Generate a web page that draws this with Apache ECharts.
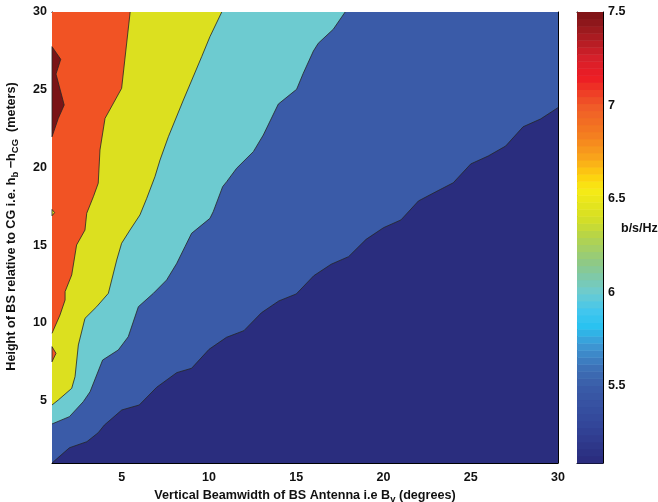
<!DOCTYPE html>
<html><head><meta charset="utf-8">
<script src="https://cdn.jsdelivr.net/npm/echarts@6/dist/echarts.min.js"></script>
<style>html,body{margin:0;padding:0;background:#fff}#c{width:658px;height:502px}</style>
</head><body><div id="c"></div>
<script>
// ---- axis extents ----
const xRange = [1, 30];
const yRange = [1, 30];
const cbRange = [5.087, 7.5];

// ---- contour boundaries, [beamwidth (deg), height (m)] ----
const navyBlueEdge = [[1,1],[2,1.98],[3,2.37],[3.65,2.95],[4,3.44],[5,4.41],[6,4.73],[7,5.87],[8.15,6.81],[9,7.09],[10,8.31],[11,9.08],[12,9.51],[13,10.66],[14,11.42],[15,11.87],[16,13.04],[17,13.78],[18,14.27],[19,15.38],[20,16.13],[21,16.63],[22,17.85],[23,18.44],[24,19.02],[25,20.23],[26,20.74],[27,21.38],[28,22.62],[29,23.12],[30,23.85]];
const blueCyanEdge = [[1,3.51],[2,3.98],[2.79,4.94],[3.18,5.58],[3.9,7.62],[4.8,8.27],[5.37,9.12],[5.95,11.05],[6.81,11.91],[7.57,12.77],[8.15,13.84],[8.62,14.91],[9,15.77],[10.05,16.73],[10.24,17.16],[10.78,18.77],[11.01,19.09],[11.58,19.95],[12.54,21.02],[13.11,22.09],[13.97,24.08],[15.02,25.03],[15.4,26.06],[15.98,27.49],[16.26,27.99],[17.12,28.89],[17.8,30]];
const cyanYellowEdge = [[1,4.73],[1.36,5.05],[2.13,5.8],[2.32,6.55],[2.51,8.59],[2.89,10.3],[3.56,11.05],[4.23,11.91],[4.71,14.05],[4.99,15.13],[5.47,15.98],[6.04,16.95],[6.43,18.02],[6.9,19.41],[7.19,20.48],[7.67,21.98],[8.53,24.34],[9.58,27.13],[10.05,28.41],[10.73,30]];
const yellowOrangeEdge = [[1,9.34],[1.46,10.52],[1.75,11.48],[1.75,12.02],[2.13,13.09],[2.41,15.02],[2.89,15.98],[2.99,17.06],[3.37,18.12],[3.65,18.99],[3.75,21.13],[4.04,23.16],[4.99,25.09],[5.48,30]];
const darkRedPatch = [[1,27.77],[1.5,26.96],[1.23,26.01],[1.7,24.02],[1.36,23.16],[1,21.98]];
const orangeNotch = [[1,8.48],[1.23,8.05],[1,7.51]];
const yellowSpot = [[1,17.3],[1.15,17.1],[1,16.9]];

// ---- level colours ----
const levelColors = {navy:'#2a2d7e', blue:'#3a5ba8', cyan:'#6dcbd0', yellow:'#dce01f', orange:'#f15324', darkred:'#7a1416'};

// ---- colormap stops for the colorbar [value, colour] ----
const cmapValues = [5.087, 5.3, 5.5, 5.6, 5.72, 5.82, 5.9, 6.0, 6.15, 6.3, 6.4, 6.55, 6.62, 6.72, 6.85, 7.0, 7.15, 7.25, 7.4, 7.5];
const cmapColors = ['#2a2b7c','#33479a','#3a5ca8','#3d72b8','#3d98d5','#29c2f0','#42c6ee','#6dcbd0','#8cc88a','#b5d44a','#d6df23','#f6eb16','#fdd20e','#f9a51b','#f47c20','#f05a28','#ed1c24','#d7202a','#9e1a1f','#7a1315'];
const cbBands = 64;

function hex2rgb(h){return [parseInt(h.slice(1,3),16),parseInt(h.slice(3,5),16),parseInt(h.slice(5,7),16)];}
function cmap(v){
  for(let i=0;i<cmapValues.length-1;i++){
    if(v<=cmapValues[i+1]){
      const t=(v-cmapValues[i])/(cmapValues[i+1]-cmapValues[i]);
      const a=hex2rgb(cmapColors[i]), b=hex2rgb(cmapColors[i+1]);
      return 'rgb('+a.map((c,k)=>Math.round(c+(b[k]-c)*t)).join(',')+')';
    }
  }
  return cmapColors[cmapColors.length-1];
}
const bandStep=(cbRange[1]-cbRange[0])/cbBands;
const cbData=[];
for(let i=0;i<cbBands;i++){cbData.push([cbRange[0]+i*bandStep, cbRange[0]+(i+1)*bandStep]);}

const FONT='Liberation Sans, Arial, sans-serif';
const TXT='#111';

function polySeries(pts, fill, stroke, z){
  return {
    type:'custom', xAxisIndex:0, yAxisIndex:0, z:z||2, silent:true,
    data:[0],
    renderItem:function(params, api){
      return {type:'polygon', shape:{points:pts.map(p=>api.coord(p))},
        style:{fill:fill, stroke:stroke||null, lineWidth:stroke?0.8:0}};
    }
  };
}
function edgeSeries(pts){
  return {type:'line', xAxisIndex:0, yAxisIndex:0, data:pts, symbol:'none', z:5, silent:true,
    lineStyle:{color:'#262626', width:0.8}};
}

const corners = [[xRange[0],yRange[0]],[xRange[1],yRange[0]],[xRange[1],yRange[1]],[xRange[0],yRange[1]]];

const series = [
  polySeries(corners, levelColors.navy),
  polySeries(navyBlueEdge.concat([[xRange[1],yRange[1]],[xRange[0],yRange[1]]]), levelColors.blue),
  polySeries(blueCyanEdge.concat([[xRange[0],yRange[1]]]), levelColors.cyan),
  polySeries(cyanYellowEdge.concat([[xRange[0],yRange[1]]]), levelColors.yellow),
  polySeries(yellowOrangeEdge.concat([[xRange[0],yRange[1]]]), levelColors.orange),
  polySeries(darkRedPatch, levelColors.darkred, '#262626', 6),
  polySeries(orangeNotch, levelColors.orange, '#262626', 6),
  polySeries(yellowSpot, levelColors.yellow, '#262626', 6),
  edgeSeries(navyBlueEdge),
  edgeSeries(blueCyanEdge),
  edgeSeries(cyanYellowEdge),
  edgeSeries(yellowOrangeEdge),
  {
    type:'custom', xAxisIndex:2, yAxisIndex:2, silent:true, data:cbData,
    renderItem:function(params, api){
      const lo=api.value(0), hi=api.value(1);
      const p0=api.coord([0,lo]), p1=api.coord([1,hi]);
      return {type:'rect', shape:{x:p0[0], y:p1[1], width:p1[0]-p0[0], height:p0[1]-p1[1]+0.5},
        style:{fill:cmap((lo+hi)/2)}};
    }
  }
];

const axLine={show:true, onZero:false, lineStyle:{color:'#000', width:1}};
const axTick={show:true, inside:true, length:5, lineStyle:{color:'#000', width:1}};
const axLabel={show:true, color:TXT, fontWeight:'bold', fontSize:12.5, fontFamily:FONT, showMinLabel:false};
const noLabel={show:false};

const subRich = {
  a:{fontSize:12.6, fontWeight:'bold', fontFamily:FONT, color:TXT, verticalAlign:'top'},
  s:{fontSize:9.5, fontWeight:'bold', fontFamily:FONT, color:TXT, verticalAlign:'bottom', padding:[5,0,0,0]}
};

const option = {
  animation:false,
  backgroundColor:'#fff',
  grid:[
    {left:52, top:12, width:506, height:451, containLabel:false, outerBoundsMode:'none'},
    {left:577, top:12, width:26, height:451, containLabel:false, outerBoundsMode:'none'}
  ],
  xAxis:[
    {type:'value', gridIndex:0, min:xRange[0], max:xRange[1], position:'bottom',
     axisLine:axLine, axisTick:axTick, axisLabel:Object.assign({}, axLabel, {margin:8}), splitLine:{show:false},
     name:'{a|Vertical Beamwidth of BS Antenna i.e B}{s|v}{a| (degrees)}', nameLocation:'middle', nameGap:23,
     nameTextStyle:{rich:subRich}},
    {type:'value', gridIndex:0, min:xRange[0], max:xRange[1], position:'top',
     axisLine:axLine, axisTick:axTick, axisLabel:noLabel, splitLine:{show:false}},
    {type:'value', gridIndex:1, min:0, max:1, position:'bottom',
     axisLine:axLine, axisTick:{show:false}, axisLabel:noLabel, splitLine:{show:false}},
    {type:'value', gridIndex:1, min:0, max:1, position:'top',
     axisLine:axLine, axisTick:{show:false}, axisLabel:noLabel, splitLine:{show:false}}
  ],
  yAxis:[
    {type:'value', gridIndex:0, min:yRange[0], max:yRange[1], position:'left',
     axisLine:axLine, axisTick:axTick, axisLabel:Object.assign({}, axLabel, {margin:5}), splitLine:{show:false},
     name:'{a|Height of BS relative to CG i.e. h}{s|b}{a| \u2212h}{s|CG}{a|  (meters)}', nameLocation:'middle', nameGap:32, nameRotate:90,
     nameTextStyle:{rich:subRich, padding:[0,0,0,22]}},
    {type:'value', gridIndex:0, min:yRange[0], max:yRange[1], position:'right',
     axisLine:axLine, axisTick:axTick, axisLabel:noLabel, splitLine:{show:false}},
    {type:'value', gridIndex:1, min:cbRange[0], max:cbRange[1], position:'right',
     axisLine:axLine, axisTick:Object.assign({}, axTick, {length:3}), axisLabel:Object.assign({}, axLabel, {margin:5}), splitLine:{show:false}},
    {type:'value', gridIndex:1, min:cbRange[0], max:cbRange[1], position:'left',
     axisLine:axLine, axisTick:Object.assign({}, axTick, {length:3}), axisLabel:noLabel, splitLine:{show:false}}
  ],
  graphic:[
    {type:'text', left:621, top:222, style:{text:'b/s/Hz', fill:TXT, font:'bold 12.5px '+FONT}}
  ],
  series:series
};

const chart = echarts.init(document.getElementById('c'), null, {renderer:'canvas'});
chart.setOption(option);
</script>
</body></html>
